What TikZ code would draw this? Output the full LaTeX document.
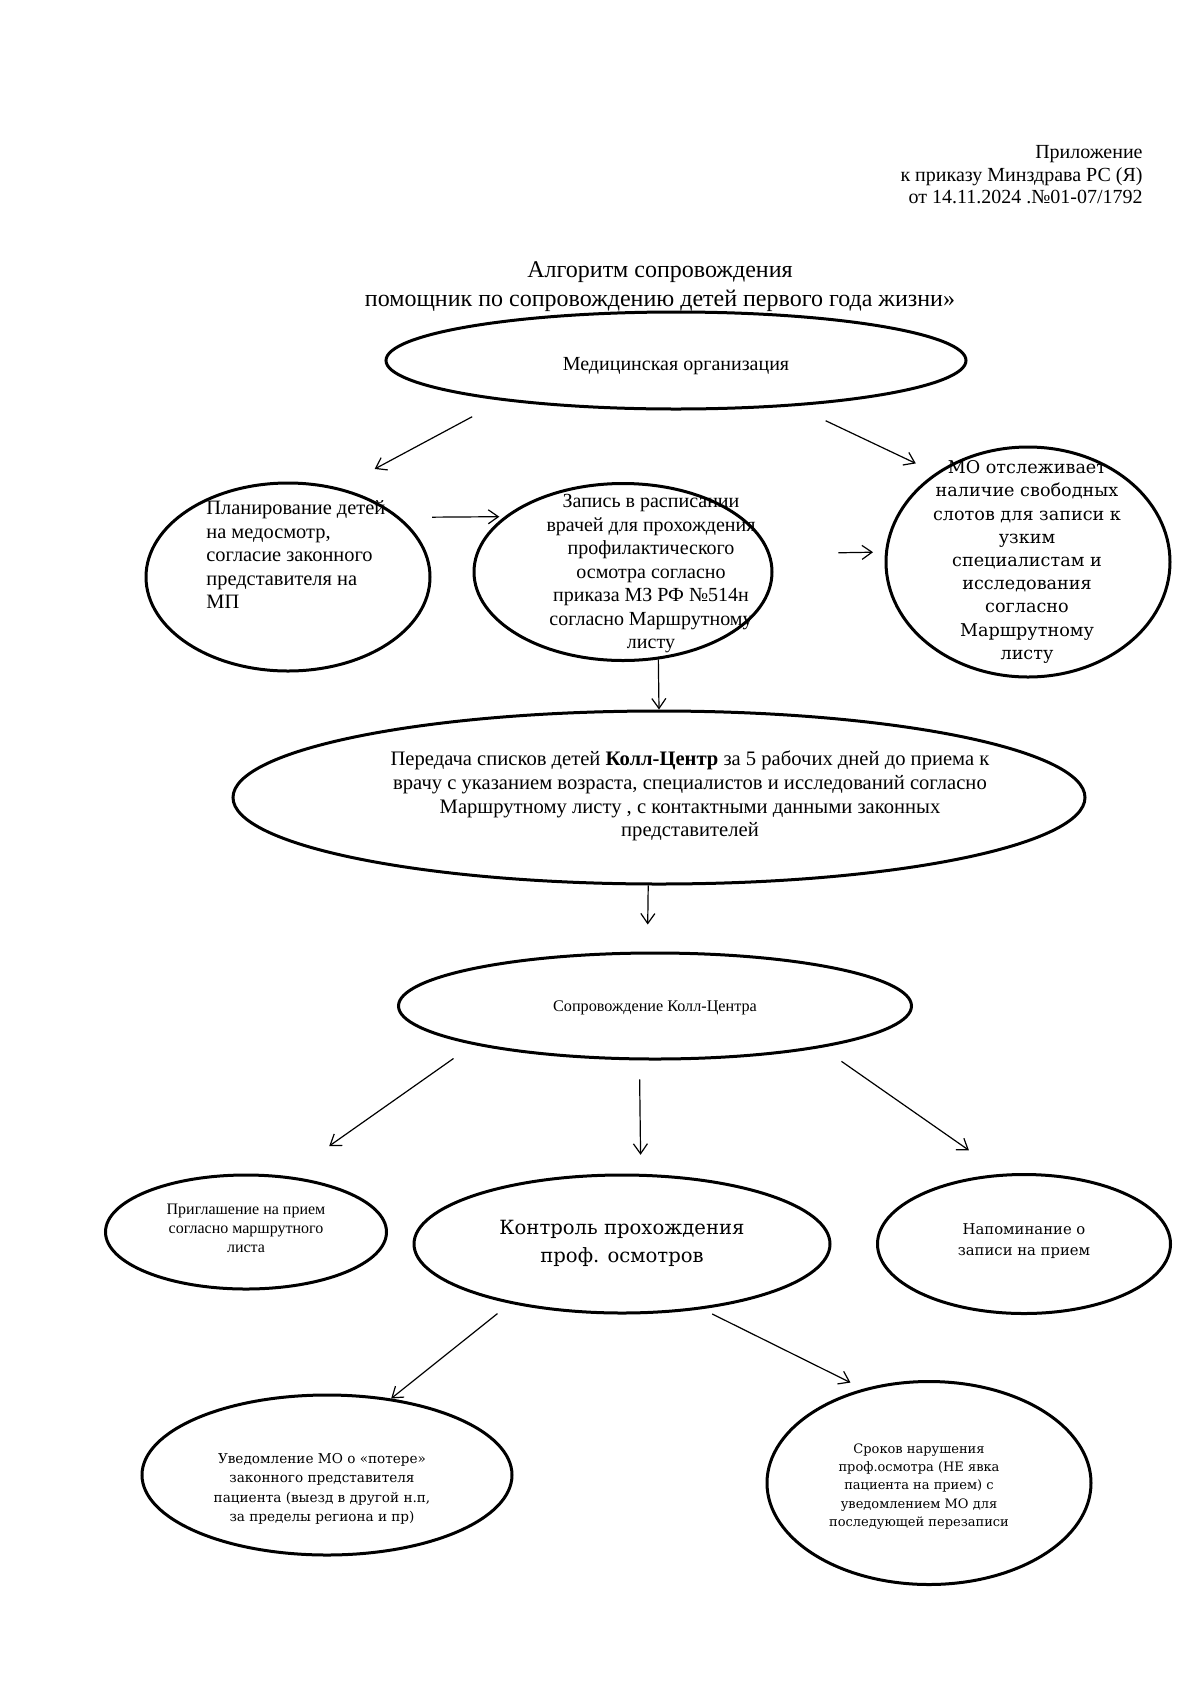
\documentclass[tikz,border=0pt]{standalone}
\usepackage{fontspec}
\setmainfont{Liberation Serif}
\newfontfamily\wideserif{DejaVu Serif}
\usetikzlibrary{shapes.geometric,arrows.meta,positioning}

\begin{document}
\begin{tikzpicture}[
    x=0.5pt, y=-0.5pt,
    ell/.style={ellipse, draw, line width=1.5pt, inner sep=0pt},
    txt/.style={align=center, inner sep=0pt},
    arr/.style={-{Straight Barb[length=5pt,width=7pt]}, line width=0.6pt}
]
\useasboundingbox (0,0) rectangle (1200,1698);

%% Header and title
\node[txt, align=right, anchor=north east, font=\fontsize{10}{11.25}\selectfont] (prilozh) at (1143,145)
    {Приложение\\ к приказу Минздрава РС (Я)\\ от 14.11.2024 .№01-07/1792};
\node[txt, font=\fontsize{12}{14.5}\selectfont] (title) at (660,287)
    {Алгоритм сопровождения\\ помощник по сопровождению детей первого года жизни»};

%% First row
\node[ell, minimum width=290pt, minimum height=48.5pt] (medorg) at (676,360.5) {};
\node[txt, font=\fontsize{10}{12}\selectfont] (medorg_t) at (676,366) {Медицинская организация};

\node[ell, minimum width=142pt, minimum height=94pt] (plan) at (288,577) {};
\node[txt, align=left, anchor=west, font=\fontsize{10.2}{11.75}\selectfont] (plan_t) at (206,555)
    {Планирование детей\\ на медосмотр,\\ согласие законного\\ представителя на\\ МП};

\node[ell, minimum width=149pt, minimum height=88.5pt] (zapis) at (623,572) {};
\node[txt, font=\fontsize{10}{11.75}\selectfont] (zapis_t) at (651,574)
    {Запись в расписании\\ врачей для прохождения\\ профилактического\\ осмотра согласно\\ приказа МЗ РФ №514н\\ согласно Маршрутному\\ листу};

\node[ell, minimum width=142pt, minimum height=115pt] (slots) at (1028,562) {};
\node[txt, font=\wideserif\fontsize{8.8}{11.6}\selectfont] (slots_t) at (1027,562)
    {МО отслеживает\\ наличие свободных\\ слотов для записи к\\ узким\\ специалистам и\\ исследования\\ согласно\\ Маршрутному\\ листу};

%% Call centre
\node[ell, minimum width=426pt, minimum height=86.5pt] (peredacha) at (659,797.5) {};
\node[txt, font=\fontsize{10.3}{11.9}\selectfont] (peredacha_t) at (690,796)
    {Передача списков детей \textbf{Колл-Центр} за 5 рабочих дней до приема к\\ врачу с указанием возраста, специалистов и исследований согласно\\ Маршрутному листу , с контактными данными законных\\ представителей};

\node[ell, minimum width=256.5pt, minimum height=53pt] (soprov) at (655,1006) {};
\node[txt, font=\fontsize{8.1}{10}\selectfont] (soprov_t) at (655,1008) {Сопровождение Колл-Центра};

%% Second row
\node[ell, minimum width=140.5pt, minimum height=57pt] (priglash) at (246,1232) {};
\node[txt, font=\fontsize{8}{9.5}\selectfont] (priglash_t) at (246,1228.5)
    {Приглашение на прием\\ согласно маршрутного\\ листа};

\node[ell, minimum width=208pt, minimum height=69pt] (kontrol) at (622,1244) {};
\node[txt, font=\wideserif\fontsize{9.8}{14}\selectfont] (kontrol_t) at (622,1243)
    {Контроль прохождения\\ проф. осмотров};

\node[ell, minimum width=146.5pt, minimum height=69.5pt] (napomin) at (1024,1244) {};
\node[txt, font=\wideserif\fontsize{7.4}{10.3}\selectfont] (napomin_t) at (1024,1241)
    {Напоминание о\\ записи на прием};

%% Third row
\node[ell, minimum width=185pt, minimum height=80pt] (uvedoml) at (327,1475) {};
\node[txt, font=\wideserif\fontsize{6.8}{9.75}\selectfont] (uvedoml_t) at (322,1489)
    {Уведомление МО о «потере»\\ законного представителя\\ пациента (выезд в другой н.п,\\ за пределы региона и пр)};

\node[ell, minimum width=162pt, minimum height=101.5pt] (sroki) at (929,1483) {};
\node[txt, font=\wideserif\fontsize{6.5}{9.2}\selectfont] (sroki_t) at (919,1486.5)
    {Сроков нарушения\\ проф.осмотра (НЕ явка\\ пациента на прием) с\\ уведомлением МО для\\ последующей перезаписи};

%% Arrows
\draw[arr, shorten <=17pt, shorten >=20pt]   (medorg.193.9) -- (plan.60);
\draw[arr, shorten <=17pt, shorten >=11pt]   (medorg.-21.6) -- (slots.136);
\draw[arr, shorten <=16pt, shorten >=2.5pt]  (plan.28) -- (zapis.155.4);
\draw[arr, shorten <=34pt, shorten >=6pt]    (zapis.7) -- (slots.176.8);
\draw[arr]                                   (zapis.-68.5) -- (peredacha.90);
\draw[arr, shorten >=13.5pt]                 (peredacha.-97.9) -- (soprov.98.6);
\draw[arr, shorten <=12pt, shorten >=26pt]   (soprov.192.3) -- (priglash.54.2);
\draw[arr, shorten <=9.5pt, shorten >=9.5pt] (soprov.-106) -- (kontrol.75.4);
\draw[arr, shorten <=12pt, shorten >=20.5pt] (soprov.-14.7) -- (napomin.107.2);
\draw[arr, shorten <=8pt]                    (kontrol.208.3) -- (uvedoml.50.9);
\draw[arr, shorten <=5.5pt, shorten >=7pt]   (kontrol.-39.3) -- (sroki.125.6);

\end{tikzpicture}
\end{document}
